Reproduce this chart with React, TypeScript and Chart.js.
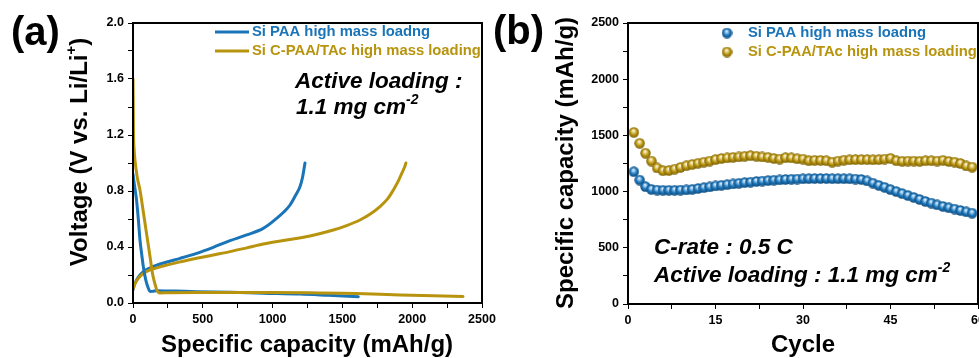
import React, { useEffect, useRef } from "react";
import { Chart, registerables } from "chart.js";

Chart.register(...registerables);

// ---------- Panel (a): voltage profiles ----------
const paaDischargeCap = [0, 8, 18, 26, 38, 50, 62, 74, 86, 98, 112, 122, 140, 170, 300, 456, 700, 933, 1196, 1400, 1614];
const paaDischargeV = [0.92, 0.86, 0.79, 0.73, 0.6, 0.45, 0.35, 0.26, 0.19, 0.14, 0.1, 0.082, 0.083, 0.088, 0.085, 0.081, 0.076, 0.07, 0.064, 0.055, 0.045];
const paaChargeCap = [0, 10, 26, 50, 74, 120, 170, 250, 337, 456, 575, 695, 814, 933, 1029, 1080, 1125, 1165, 1196, 1215, 1232];
const paaChargeV = [0.093, 0.13, 0.164, 0.2, 0.224, 0.25, 0.27, 0.295, 0.319, 0.355, 0.398, 0.445, 0.486, 0.533, 0.605, 0.65, 0.7, 0.77, 0.83, 0.9, 1.0];

const cpaaDischargeCap = [0, 2, 4, 8, 14, 30, 50, 68, 86, 104, 122, 138, 150, 162, 172, 193, 250, 456, 1000, 1268, 1600, 1913, 2150, 2364];
const cpaaDischargeV = [1.6, 1.4, 1.2, 1.1, 1.02, 0.9, 0.807, 0.69, 0.569, 0.45, 0.33, 0.22, 0.164, 0.12, 0.088, 0.072, 0.074, 0.075, 0.075, 0.074, 0.067, 0.057, 0.051, 0.047];
const cpaaChargeCap = [0, 15, 30, 50, 80, 122, 217, 330, 456, 575, 695, 815, 933, 1100, 1268, 1435, 1530, 1626, 1700, 1769, 1825, 1865, 1900, 1925, 1945, 1955];
const cpaaChargeV = [0.1, 0.14, 0.165, 0.19, 0.215, 0.236, 0.264, 0.292, 0.319, 0.343, 0.367, 0.394, 0.421, 0.45, 0.479, 0.521, 0.553, 0.593, 0.635, 0.688, 0.745, 0.807, 0.87, 0.926, 0.97, 1.0];

const voltageTicksMajor = [0, 0.4, 0.8, 1.2, 1.6, 2.0];
const capacityTicksMajor = [0, 500, 1000, 1500, 2000, 2500];

// ---------- Panel (b): cycling ----------
const cycles = [1, 2, 3, 4, 5, 6, 7, 8, 9, 10, 11, 12, 13, 14, 15, 16, 17, 18, 19, 20, 21, 22, 23, 24, 25, 26, 27, 28, 29, 30, 31, 32, 33, 34, 35, 36, 37, 38, 39, 40, 41, 42, 43, 44, 45, 46, 47, 48, 49, 50, 51, 52, 53, 54, 55, 56, 57, 58, 59];
const paaCapacity = [1177, 1103, 1044, 1020, 1014, 1012, 1012, 1012, 1014, 1015, 1020, 1028, 1035, 1042, 1050, 1056, 1062, 1068, 1074, 1080, 1084, 1090, 1094, 1098, 1102, 1104, 1108, 1110, 1112, 1114, 1115, 1116, 1116, 1116, 1115, 1115, 1115, 1114, 1112, 1108, 1095, 1075, 1055, 1038, 1018, 1000, 982, 965, 948, 930, 912, 898, 882, 868, 856, 845, 832, 820, 808];
const cpaaCapacity = [1527, 1430, 1342, 1272, 1210, 1186, 1188, 1200, 1215, 1230, 1242, 1252, 1262, 1272, 1285, 1295, 1300, 1305, 1308, 1315, 1320, 1315, 1308, 1305, 1295, 1290, 1302, 1300, 1292, 1290, 1275, 1278, 1278, 1275, 1262, 1272, 1280, 1283, 1285, 1285, 1285, 1283, 1285, 1290, 1296, 1275, 1270, 1272, 1272, 1270, 1275, 1275, 1272, 1278, 1268, 1262, 1250, 1228, 1218];
const cycleTicksMajor = [0, 15, 30, 45, 60];
const capacityTicksMajorB = [0, 500, 1000, 1500, 2000, 2500];

const seriesNames = ["Si PAA high mass loadng", "Si C-PAA/TAc high mass loading"];

const BLUE = "#1A74B8";
const GOLD = "#B8940E";
const FONT = '"Liberation Sans", Arial, Helvetica, sans-serif';

type Part = { t: string; sup?: boolean };

function drawRich(
  ctx: CanvasRenderingContext2D,
  parts: Part[],
  x: number,
  y: number,
  size: number,
  style: string,
  color: string,
  align: "left" | "center"
) {
  ctx.save();
  ctx.fillStyle = color;
  ctx.textBaseline = "middle";
  ctx.textAlign = "left";
  const fontOf = (sup?: boolean) => `${style} ${sup ? size * 0.62 : size}px ${FONT}`;
  let total = 0;
  for (const p of parts) {
    ctx.font = fontOf(p.sup);
    total += ctx.measureText(p.t).width;
  }
  let cx = align === "center" ? x - total / 2 : x;
  for (const p of parts) {
    ctx.font = fontOf(p.sup);
    ctx.fillText(p.t, cx, p.sup ? y - size * 0.33 : y);
    cx += ctx.measureText(p.t).width;
  }
  ctx.restore();
}

function makeSphere(color: string, dark: string, light: string) {
  const c = document.createElement("canvas");
  c.width = 11;
  c.height = 11;
  const g = c.getContext("2d")!;
  const r = 5.2;
  const cx = 5.5;
  const cy = 5.5;
  const grad = g.createRadialGradient(cx - 0.5, cy - 2.0, 0, cx, cy, r);
  grad.addColorStop(0, "#ffffff");
  grad.addColorStop(0.25, light);
  grad.addColorStop(0.62, color);
  grad.addColorStop(1, dark);
  g.fillStyle = grad;
  g.beginPath();
  g.arc(cx, cy, r, 0, Math.PI * 2);
  g.fill();
  return c;
}

function isMajor(v: number, majors: number[]) {
  return majors.some((m) => Math.abs(m - v) < 1e-6);
}

function framePlugin(id: string, draw: (chart: any, ctx: CanvasRenderingContext2D) => void) {
  return {
    id,
    afterDraw(chart: any) {
      const ctx = chart.ctx as CanvasRenderingContext2D;
      const a = chart.chartArea;
      ctx.save();
      ctx.strokeStyle = "#000";
      ctx.lineWidth = 2;
      ctx.strokeRect(a.left, a.top, a.right - a.left, a.bottom - a.top);
      ctx.restore();
      draw(chart, ctx);
    },
  };
}

const tickFont = { family: FONT, size: 12.5, weight: "bold" as const };

function axisGrid() {
  return {
    display: true,
    drawOnChartArea: false,
    drawTicks: true,
    tickLength: 5,
    color: "#000",
    lineWidth: 1,
  };
}

export default function App() {
  const refA = useRef<HTMLCanvasElement>(null);
  const refB = useRef<HTMLCanvasElement>(null);

  useEffect(() => {
    const toXY = (xs: number[], ys: number[]) => xs.map((x, i) => ({ x, y: ys[i] }));

    const lineDs = (data: { x: number; y: number }[], color: string) => ({
      data,
      borderColor: color,
      backgroundColor: color,
      borderWidth: 3,
      pointRadius: 0,
      cubicInterpolationMode: "monotone",
      fill: false,
      borderCapStyle: "round",
      borderJoinStyle: "round",
    });

    const chartA = new Chart(refA.current!, {
      type: "line",
      data: {
        datasets: [
          lineDs(toXY(cpaaDischargeCap, cpaaDischargeV), GOLD),
          lineDs(toXY(paaDischargeCap, paaDischargeV), BLUE),
          lineDs(toXY(cpaaChargeCap, cpaaChargeV), GOLD),
          lineDs(toXY(paaChargeCap, paaChargeV), BLUE),
        ] as any,
      },
      options: {
        animation: false,
        responsive: false,
        devicePixelRatio: 1,
        layout: { padding: { left: 0, right: 18, top: 23, bottom: 0 } },
        plugins: { legend: { display: false }, tooltip: { enabled: false } },
        scales: {
          x: {
            type: "linear",
            min: 0,
            max: 2500,
            border: { display: false },
            grid: axisGrid(),
            ticks: {
              stepSize: 250,
              autoSkip: false,
              maxRotation: 0,
              padding: 4,
              color: "#000",
              font: tickFont,
              callback: (v: any) => (isMajor(Number(v), capacityTicksMajor) ? String(v) : ""),
            },
            afterFit: (s: any) => {
              s.height = 55;
            },
          },
          y: {
            type: "linear",
            min: 0,
            max: 2,
            border: { display: false },
            grid: axisGrid(),
            ticks: {
              stepSize: 0.2,
              autoSkip: false,
              padding: 4,
              color: "#000",
              font: tickFont,
              callback: (v: any) => (isMajor(Number(v), voltageTicksMajor) ? Number(v).toFixed(1) : ""),
            },
            afterFit: (s: any) => {
              s.width = 133;
            },
          },
        },
      },
      plugins: [
        framePlugin("decorA", (chart, ctx) => {
          ctx.save();
          ctx.fillStyle = "#000";
          ctx.font = `bold 40px ${FONT}`;
          ctx.textBaseline = "middle";
          ctx.textAlign = "left";
          ctx.fillText("(a)", 11, 34);
          ctx.restore();
          drawRich(ctx, [{ t: "Specific capacity (mAh/g)" }], 307, 345, 24, "bold", "#000", "center");
          ctx.save();
          ctx.translate(80, 152);
          ctx.rotate(-Math.PI / 2);
          drawRich(ctx, [{ t: "Voltage (V vs. Li/Li" }, { t: "+", sup: true }, { t: ")" }], 0, 0, 24, "bold", "#000", "center");
          ctx.restore();
          const cols = [BLUE, GOLD];
          const ys = [32, 51];
          for (let i = 0; i < 2; i++) {
            ctx.save();
            ctx.strokeStyle = cols[i];
            ctx.lineWidth = 3;
            ctx.beginPath();
            ctx.moveTo(215, ys[i]);
            ctx.lineTo(249, ys[i]);
            ctx.stroke();
            ctx.restore();
            drawRich(ctx, [{ t: seriesNames[i] }], 252, ys[i], 14.8, "bold", cols[i], "left");
          }
          drawRich(ctx, [{ t: "Active loading :" }], 295, 82, 22.5, "italic bold", "#000", "left");
          drawRich(ctx, [{ t: "1.1 mg cm" }, { t: "-2", sup: true }], 296, 108, 22.5, "italic bold", "#000", "left");
        }),
      ],
    } as any);

    const sphereBlue = makeSphere(BLUE, "#124f80", "#9ccaee");
    const sphereGold = makeSphere(GOLD, "#7d6307", "#eddb98");

    const chartB = new Chart(refB.current!, {
      type: "scatter",
      data: {
        datasets: [
          {
            data: toXY(cycles, cpaaCapacity),
            pointStyle: sphereGold,
            pointRadius: 5,
            backgroundColor: GOLD,
            borderColor: GOLD,
            showLine: false,
          },
          {
            data: toXY(cycles, paaCapacity),
            pointStyle: sphereBlue,
            pointRadius: 5,
            backgroundColor: BLUE,
            borderColor: BLUE,
            showLine: false,
          },
        ] as any,
      },
      options: {
        animation: false,
        responsive: false,
        devicePixelRatio: 1,
        layout: { padding: { left: 0, right: 27, top: 23, bottom: 0 } },
        plugins: { legend: { display: false }, tooltip: { enabled: false } },
        scales: {
          x: {
            type: "linear",
            min: 0,
            max: 60,
            border: { display: false },
            grid: axisGrid(),
            ticks: {
              stepSize: 7.5,
              autoSkip: false,
              maxRotation: 0,
              padding: 4,
              color: "#000",
              font: tickFont,
              callback: (v: any) => (isMajor(Number(v), cycleTicksMajor) ? String(v) : ""),
            },
            afterFit: (s: any) => {
              s.height = 54;
            },
          },
          y: {
            type: "linear",
            min: 0,
            max: 2500,
            border: { display: false },
            grid: axisGrid(),
            ticks: {
              stepSize: 250,
              autoSkip: false,
              padding: 4,
              color: "#000",
              font: tickFont,
              callback: (v: any) => (isMajor(Number(v), capacityTicksMajorB) ? String(v) : ""),
            },
            afterFit: (s: any) => {
              s.width = 143;
            },
          },
        },
      },
      plugins: [
        framePlugin("decorB", (chart, ctx) => {
          ctx.save();
          ctx.fillStyle = "#000";
          ctx.font = `bold 40px ${FONT}`;
          ctx.textBaseline = "middle";
          ctx.textAlign = "left";
          ctx.fillText("(b)", 8, 33);
          ctx.restore();
          drawRich(ctx, [{ t: "Cycle" }], 318, 345, 24, "bold", "#000", "center");
          ctx.save();
          ctx.translate(81, 163);
          ctx.rotate(-Math.PI / 2);
          drawRich(ctx, [{ t: "Specific capacity (mAh/g)" }], 0, 0, 24, "bold", "#000", "center");
          ctx.restore();
          const cols = [BLUE, GOLD];
          const sph = [sphereBlue, sphereGold];
          const ys = [33, 52];
          for (let i = 0; i < 2; i++) {
            ctx.drawImage(sph[i], 242 - 5.5, ys[i] - 5.5);
            drawRich(ctx, [{ t: seriesNames[i] }], 263, ys[i], 14.8, "bold", cols[i], "left");
          }
          drawRich(ctx, [{ t: "C-rate : 0.5 C" }], 169, 248, 22.5, "italic bold", "#000", "left");
          drawRich(ctx, [{ t: "Active loading : 1.1 mg cm" }, { t: "-2", sup: true }], 169, 276, 22.5, "italic bold", "#000", "left");
        }),
      ],
    } as any);

    return () => {
      chartA.destroy();
      chartB.destroy();
    };
  }, []);

  return (
    <div
      style={{
        position: "fixed",
        left: 0,
        top: 0,
        width: 979,
        height: 358,
        overflow: "hidden",
        background: "#fff",
      }}
    >
      <canvas ref={refA} width={500} height={358} style={{ position: "absolute", left: 0, top: 0 }} />
      <canvas ref={refB} width={520} height={358} style={{ position: "absolute", left: 485, top: 0 }} />
    </div>
  );
}
